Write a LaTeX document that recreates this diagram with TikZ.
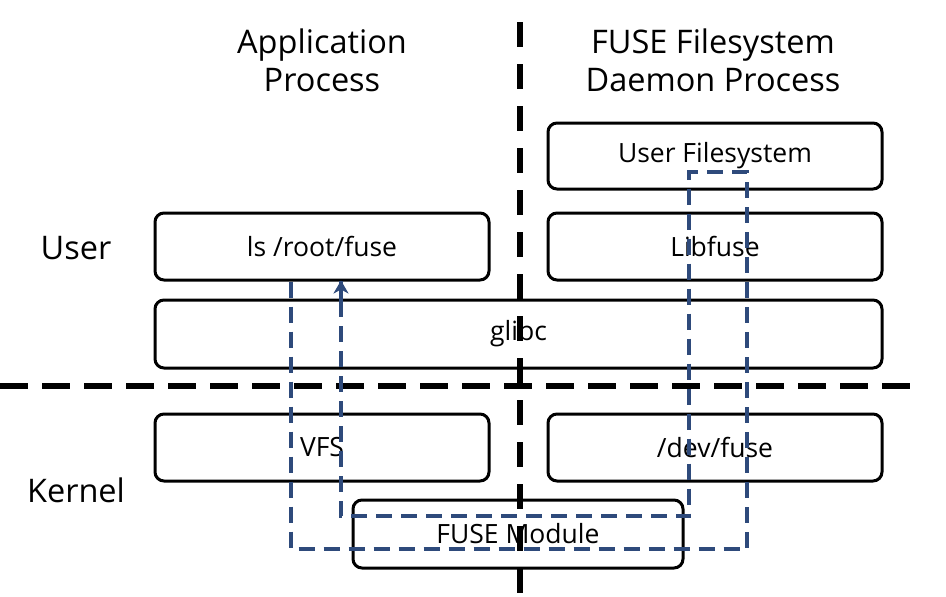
\documentclass[tikz,border=0pt]{standalone}
\usepackage{fontspec}
\setmainfont{Open Sans}
\usetikzlibrary{arrows.meta}
\definecolor{flow}{HTML}{2E4A7B}
\begin{document}
\begin{tikzpicture}[x=1pt,y=-1pt,
  box/.style={draw=black,line width=3pt,rounded corners=9pt,inner sep=0pt,font=\fontsize{26.5}{30}\selectfont},
  title/.style={font=\fontsize{32.5}{38}\selectfont,align=center,inner sep=0pt},
  side/.style={font=\fontsize{32.5}{36}\selectfont,inner sep=0pt},
  sep/.style={line width=5.5pt,black},
  flowline/.style={draw=flow,line width=3.5pt,dash pattern=on 16pt off 9pt}]
\useasboundingbox (0,0) rectangle (946,597);
% titles
\node[title] (app) at (322,60) {Application\\Process};
\node[title] (daemon) at (713,60) {FUSE Filesystem\\Daemon Process};
\node[side] (user) at (76,248) {User};
\node[side] (kernel) at (76,490) {Kernel};
% boxes
\node[box,minimum width=334pt,minimum height=66pt] (ufs) at (715,156) {User Filesystem};
\node[box,minimum width=334pt,minimum height=67pt] (lib) at (715,246.5) {Libfuse};
\node[box,minimum width=334pt,minimum height=67pt] (ls) at (322,246.5) {ls /root/fuse};
\node[box,minimum width=727pt,minimum height=68pt] (glibc) at (518.5,334) {glibc};
\node[box,minimum width=334pt,minimum height=67pt] (vfs) at (322,447.5) {VFS};
\node[box,minimum width=334pt,minimum height=67pt] (dev) at (715,447.5) {/dev/fuse};
\node[box,minimum width=330pt,minimum height=68pt] (mod) at (518,534) {FUSE Module};
% separators
\coordinate (vtop) at (520,22);
\coordinate (vbot) at (520,597);
\coordinate (hl) at (0,386);
\coordinate (hr) at (922,386);
\draw[sep,dash pattern=on 25pt off 17pt] (vtop) -- (vbot);
\draw[sep,dash pattern=on 28pt off 14pt] (hl) -- (hr);
% flow
\coordinate (a1) at (291,549);
\coordinate (a2) at (747,549);
\coordinate (a3) at (747,172);
\coordinate (a4) at (689,172);
\coordinate (a5) at (689,516);
\coordinate (a6) at (341,516);
\draw[flowline] (ls.south -| a1) -- (a1) -- (a2) -- (a3) -- (a4) -- (a5) -- (a6)
  -- ([yshift=1pt]ls.south -| a6);
\draw[draw=flow,line width=3.5pt,-{Stealth[length=13pt,width=15pt,inset=4pt]}] ([yshift=-28pt]ls.south -| a6) -- ([yshift=1pt]ls.south -| a6);
\end{tikzpicture}
\end{document}
